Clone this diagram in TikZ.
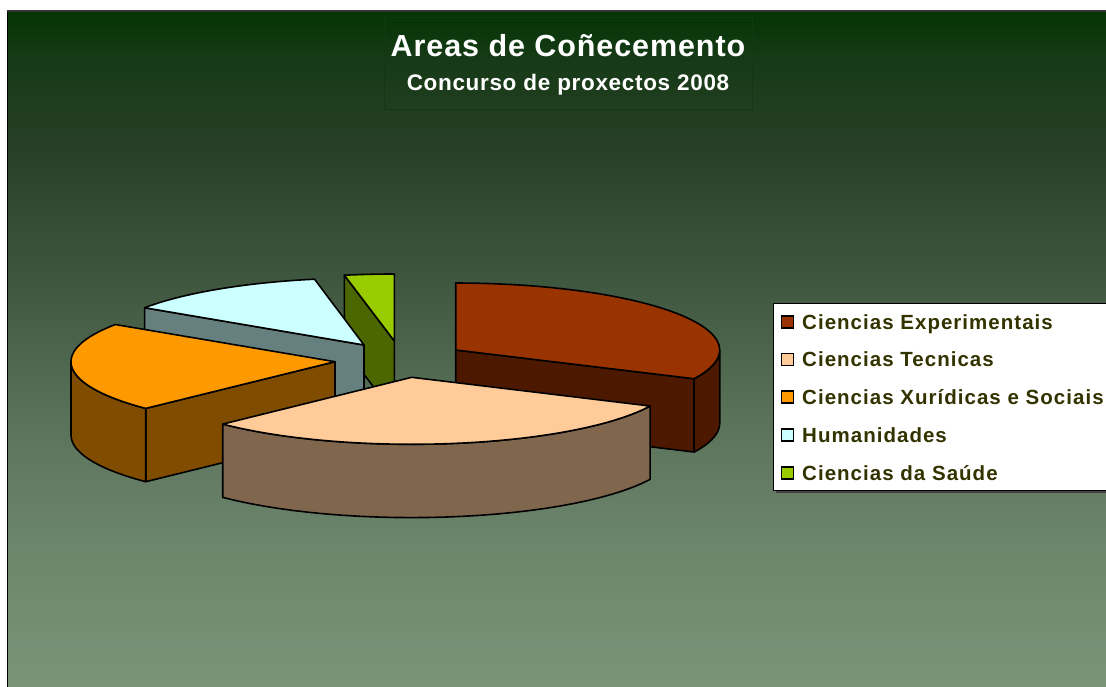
\documentclass[tikz,border=0pt]{standalone}
\usepackage{fontspec}
\setmainfont{Liberation Sans}
\newfontfamily\titlefont[LetterSpace=3]{Liberation Sans}
\newfontfamily\legfont[LetterSpace=5]{Liberation Sans}
\definecolor{bgA}{HTML}{033503}
\definecolor{bgB}{HTML}{163A16}
\definecolor{bgC}{HTML}{273F27}
\definecolor{bgD}{HTML}{3F573F}
\definecolor{bgE}{HTML}{5A725A}
\definecolor{bgF}{HTML}{6D876D}
\definecolor{bgG}{HTML}{7A947A}
\definecolor{expT}{HTML}{993300}
\definecolor{expS}{HTML}{4C1900}
\definecolor{tecT}{HTML}{FFCC99}
\definecolor{tecS}{HTML}{7F664C}
\definecolor{xurT}{HTML}{FF9900}
\definecolor{xurS}{HTML}{7F4C00}
\definecolor{humT}{HTML}{CCFFFF}
\definecolor{humS}{HTML}{667F7F}
\definecolor{sauT}{HTML}{99CC00}
\definecolor{sauS}{HTML}{4C6600}
\definecolor{legtext}{HTML}{333300}
\definecolor{titlebox}{HTML}{143814}
\pgfdeclareverticalshading{bgshade}{100bp}{color(0bp)=(bgG); color(25bp)=(bgG); color(35bp)=(bgF); color(45bp)=(bgE); color(55bp)=(bgD); color(65bp)=(bgC); color(71.5bp)=(bgB); color(75bp)=(bgA); color(100bp)=(bgA)}
\tikzset{
  pieline/.style={draw=black, line width=1.6pt, line join=round},
  legsq/.style={draw=black, line width=1.4pt, minimum size=12pt, inner sep=0pt},
  legtxt/.style={anchor=base west, inner sep=0pt, text=legtext, font=\legfont\bfseries\fontsize{20.5}{23}\selectfont},
}
% top face of a slice: centre x, centre y, start angle, end angle, colour
\newcommand\pieTop[5]{%
  \filldraw[pieline, fill=#5] (#1,#2) -- plot[domain=#3:#4, samples=40, variable=\t] ({#1+264*cos(\t)},{#2-67*sin(\t)}) -- cycle;}
% outer rim of a slice
\newcommand\pieRim[5]{%
  \filldraw[pieline, fill=#5] plot[domain=#3:#4, samples=30, variable=\t] ({#1+264*cos(\t)},{#2-67*sin(\t)}) -- plot[domain=#4:#3, samples=30, variable=\t] ({#1+264*cos(\t)},{#2+73.3-67*sin(\t)}) -- cycle;}
% radial wall of a slice
\newcommand\pieWall[4]{%
  \filldraw[pieline, fill=#4] (#1,#2) -- ({#1+264*cos(#3)},{#2-67*sin(#3)}) -- ++(0,73.3) -- (#1,#2+73.3) -- cycle;}
\begin{document}
\begin{tikzpicture}[x=1pt,y=-1pt]
\useasboundingbox (0,0) rectangle (1106,686);
% background
\shade[shading=bgshade] (7,10) rectangle (1112,690);
\draw[line width=1.5pt, black] (7.5,690) -- (7.5,10.5);
\draw[line width=2pt, black!80] (7,10.5) -- (1112,10.5);
% title
\draw[titlebox, line width=0.8pt] (384,17) rectangle (752,109);
\node[anchor=base, inner sep=0pt, text=white, font=\titlefont\bfseries\fontsize{30.5}{34}\selectfont] (title) at (568,56.5) {Areas de Coñecemento};
\node[anchor=base, inner sep=0pt, text=white, font=\titlefont\bfseries\fontsize{22.5}{26}\selectfont] (subtitle) at (568,90) {Concurso de proxectos 2008};
% pie: Ciencias da Saude
\pieWall{394.3}{341}{100.9}{sauS}
\pieTop{394.3}{341}{90}{100.9}{sauT}
% Humanidades
\pieWall{364}{345}{146.2}{humS}
\pieTop{364}{345}{100.8}{146.2}{humT}
% Ciencias Experimentais
\pieWall{455.7}{350}{-25.4}{expS}
\pieRim{455.7}{350}{-25.4}{0}{expS}
\pieTop{455.7}{350}{-25.4}{90}{expT}
% Ciencias Xuridicas e Sociais
\pieWall{335}{361.7}{224.2}{xurS}
\pieRim{335}{361.7}{180}{224.2}{xurS}
\pieTop{335}{361.7}{146.3}{224.2}{xurT}
% Ciencias Tecnicas
\pieRim{411.7}{377.3}{224.3}{334.6}{tecS}
\pieTop{411.7}{377.3}{224.3}{334.6}{tecT}
% legend
\fill[black!75] (776,306) rectangle (1115,492.5);
\filldraw[fill=white, draw=black, line width=1pt] (773,303) rectangle (1115,490);
\node[legsq, fill=expT] (sq1) at (787.5,322) {};
\node[legsq, fill=tecT] (sq2) at (787.5,359.5) {};
\node[legsq, fill=xurT] (sq3) at (787.5,397) {};
\node[legsq, fill=humT] (sq4) at (787.5,435) {};
\node[legsq, fill=sauT] (sq5) at (787.5,473) {};
\node[legtxt] (l1) at (802,329) {Ciencias Experimentais};
\node[legtxt] (l2) at (802,366.5) {Ciencias Tecnicas};
\node[legtxt] (l3) at (802,404) {Ciencias Xurídicas e Sociais};
\node[legtxt] (l4) at (802,442) {Humanidades};
\node[legtxt] (l5) at (802,480) {Ciencias da Saúde};
\end{tikzpicture}
\end{document}
